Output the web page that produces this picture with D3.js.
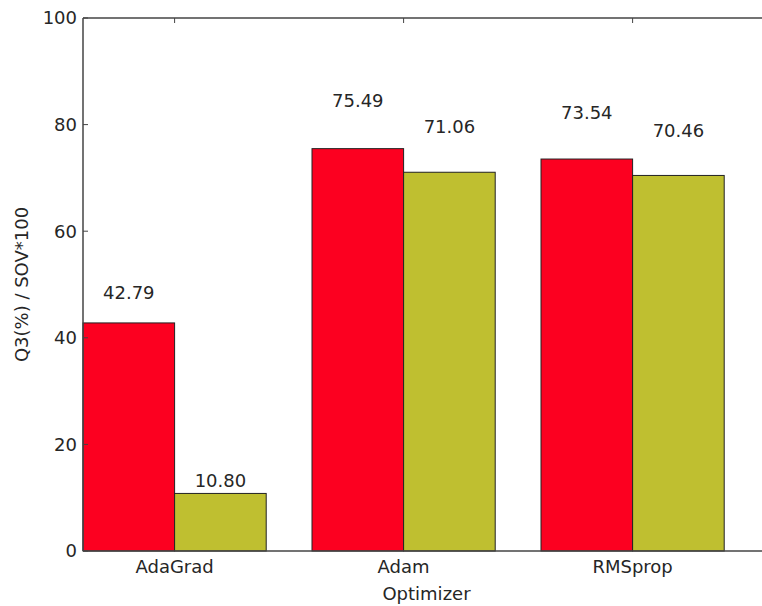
<!DOCTYPE html>
<html>
<head>
<meta charset="utf-8">
<script src="https://cdn.jsdelivr.net/npm/d3@7"></script>
<style>
  body { margin: 0; background: #fff; }
  text { font-family: "DejaVu Sans", sans-serif; fill: #262626; }
</style>
</head>
<body>
<div id="chart"></div>
<script>
const optimizers = ["AdaGrad", "Adam", "RMSprop"];
const q3Values = [42.79, 75.49, 73.54];
const sovValues = [10.80, 71.06, 70.46];
const yTicks = [0, 20, 40, 60, 80, 100];

const width = 762, height = 606;
const svg = d3.select("#chart").append("svg")
  .attr("width", width)
  .attr("height", height);

// x axis in "bar units": groups at 0,1,2 with bars 0.4 wide
const x = d3.scaleLinear().domain([0, 3]).range([83, 770]);
const y = d3.scaleLinear().domain([0, 100]).range([551, 18]);
const barW = 0.4;

const series = [
  { values: q3Values, offset: 0, color: "#fc0020" },
  { values: sovValues, offset: barW, color: "#bfbf30" }
];

series.forEach(s => {
  const g = svg.append("g");
  g.selectAll("rect")
    .data(s.values)
    .enter()
    .append("rect")
    .attr("x", (d, i) => x(i + s.offset))
    .attr("y", d => y(d))
    .attr("width", x(barW) - x(0))
    .attr("height", d => y(0) - y(d))
    .attr("fill", s.color)
    .attr("stroke", "#222")
    .attr("stroke-width", 1);

  g.selectAll("text")
    .data(s.values)
    .enter()
    .append("text")
    .attr("x", (d, i) => x(i + s.offset + barW / 2))
    .attr("y", d => y(d * 1.1) - 1)
    .attr("text-anchor", "middle")
    .style("font-size", "18px")
    .text(d => d.toFixed(2));
});

// frame (left, bottom, top)
svg.append("line").attr("x1", 83).attr("x2", 83).attr("y1", y(0)).attr("y2", y(100))
  .attr("stroke", "#444").attr("stroke-width", 1.5);
svg.append("line").attr("x1", 83).attr("x2", width).attr("y1", y(0)).attr("y2", y(0))
  .attr("stroke", "#444").attr("stroke-width", 1.5);
svg.append("line").attr("x1", 83).attr("x2", width).attr("y1", y(100)).attr("y2", y(100))
  .attr("stroke", "#444").attr("stroke-width", 1.5);

// y ticks
const yAxis = svg.append("g");
yTicks.forEach(t => {
  yAxis.append("line")
    .attr("x1", 83).attr("x2", 88)
    .attr("y1", y(t)).attr("y2", y(t))
    .attr("stroke", "#444");
  yAxis.append("text")
    .attr("x", 77)
    .attr("y", y(t))
    .attr("dy", "0.35em")
    .attr("text-anchor", "end")
    .style("font-size", "18px")
    .text(t);
});

// x ticks (top, inward) and labels
optimizers.forEach((name, i) => {
  svg.append("line")
    .attr("x1", x(i + barW)).attr("x2", x(i + barW))
    .attr("y1", y(100)).attr("y2", y(100) + 5)
    .attr("stroke", "#444");
  svg.append("text")
    .attr("x", x(i + barW))
    .attr("y", 573)
    .attr("text-anchor", "middle")
    .style("font-size", "18px")
    .text(name);
});

svg.append("text")
  .attr("x", (83 + 770) / 2)
  .attr("y", 600)
  .attr("text-anchor", "middle")
  .style("font-size", "18px")
  .text("Optimizer");

svg.append("text")
  .attr("transform", `translate(28, ${(y(0) + y(100)) / 2}) rotate(-90)`)
  .attr("text-anchor", "middle")
  .style("font-size", "18px")
  .text("Q3(%) / SOV*100");
</script>
</body>
</html>
